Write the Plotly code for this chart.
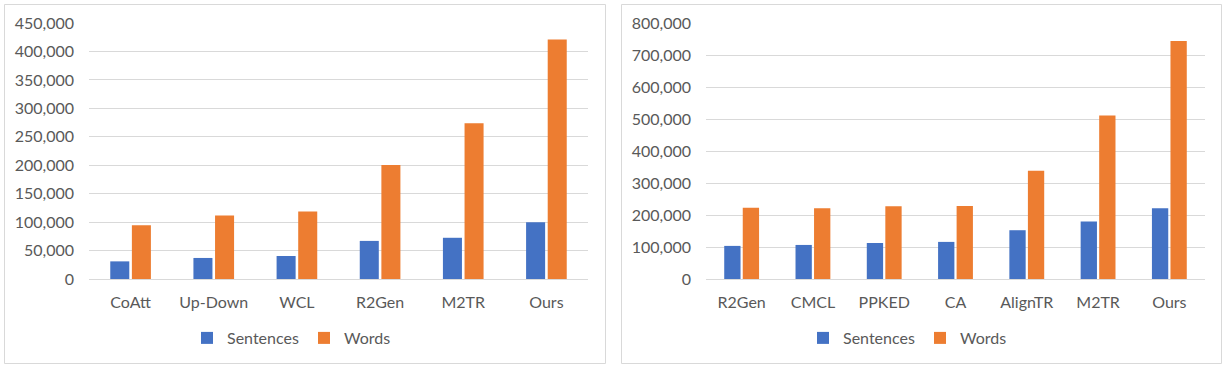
import plotly.graph_objects as go

# ---- data ----
left_categories = ["CoAtt", "Up-Down", "WCL", "R2Gen", "M2TR", "Ours"]
left_sentences = [31000, 37000, 40500, 67000, 72500, 100000]
left_words = [94500, 111500, 118500, 200500, 274000, 421000]

right_categories = ["R2Gen", "CMCL", "PPKED", "CA", "AlignTR", "M2TR", "Ours"]
right_sentences = [103500, 106500, 112500, 116000, 152500, 179500, 221000]
right_words = [223000, 221000, 227500, 228500, 338500, 511500, 744500]

left_yticks = list(range(0, 450001, 50000))
right_yticks = list(range(0, 800001, 100000))

BLUE = "#4472C4"
ORANGE = "#ED7D31"
TEXT = "#595959"
GRID = "#D9D9D9"
FONT = "Lato"

W, H = 1224, 367

fig = go.Figure()

fig.add_trace(go.Bar(x=left_categories, y=left_sentences, name="Sentences",
                     marker=dict(color=BLUE, line=dict(width=0)),
                     xaxis="x", yaxis="y", legend="legend"))
fig.add_trace(go.Bar(x=left_categories, y=left_words, name="Words",
                     marker=dict(color=ORANGE, line=dict(width=0)),
                     xaxis="x", yaxis="y", legend="legend"))
fig.add_trace(go.Bar(x=right_categories, y=right_sentences, name="Sentences",
                     marker=dict(color=BLUE, line=dict(width=0)),
                     xaxis="x2", yaxis="y2", legend="legend2"))
fig.add_trace(go.Bar(x=right_categories, y=right_words, name="Words",
                     marker=dict(color=ORANGE, line=dict(width=0)),
                     xaxis="x2", yaxis="y2", legend="legend2"))

ybot = (H - 279) / H
ytop = (H - 23) / H

xaxis_common = dict(showgrid=False, showline=False, zeroline=False, ticks="",
                    tickfont=dict(family=FONT, size=16, color=TEXT),
                    ticklabelstandoff=12, automargin=False)
yaxis_common = dict(showgrid=True, gridcolor=GRID, gridwidth=1, showline=False,
                    zeroline=True, zerolinecolor=GRID, zerolinewidth=1,
                    ticks="", tickformat=",d",
                    tickfont=dict(family=FONT, size=16, color=TEXT),
                    ticklabelstandoff=14, automargin=False)

legend_common = dict(orientation="h", xanchor="center",
                     y=(H - 338) / H, yanchor="middle",
                     font=dict(family=FONT, size=16, color=TEXT),
                     itemwidth=30, entrywidth=72, bgcolor="rgba(0,0,0,0)")

fig.update_layout(
    width=W, height=H, autosize=False,
    margin=dict(l=0, r=0, t=0, b=0, pad=0, autoexpand=False),
    paper_bgcolor="white", plot_bgcolor="white",
    barmode="group", bargap=0.48, bargroupgap=0.12,
    font=dict(family=FONT, color=TEXT),
    xaxis=dict(domain=[89 / W, 588 / W], anchor="y", **xaxis_common),
    yaxis=dict(domain=[ybot, ytop], anchor="x", range=[0, 450000 * 1.0005],
               tickvals=left_yticks, **yaxis_common),
    xaxis2=dict(domain=[706 / W, 1205 / W], anchor="y2", **xaxis_common),
    yaxis2=dict(domain=[ybot, ytop], anchor="x2", range=[0, 800000 * 1.0005],
                tickvals=right_yticks, **yaxis_common),
    legend=dict(x=304 / W, **legend_common),
    legend2=dict(x=920 / W, **legend_common),
    shapes=[
        dict(type="rect", xref="paper", yref="paper",
             x0=4.5 / W, x1=605.5 / W, y0=(H - 363.5) / H, y1=(H - 4.5) / H,
             line=dict(color="#D9D9D9", width=1), fillcolor="rgba(0,0,0,0)"),
        dict(type="rect", xref="paper", yref="paper",
             x0=621.5 / W, x1=1221.5 / W, y0=(H - 363.5) / H, y1=(H - 4.5) / H,
             line=dict(color="#D9D9D9", width=1), fillcolor="rgba(0,0,0,0)"),
    ],
)

fig.write_html("out.html", config={"displayModeBar": False},
               post_script="document.body.style.margin='0';document.body.style.overflow='hidden';")
